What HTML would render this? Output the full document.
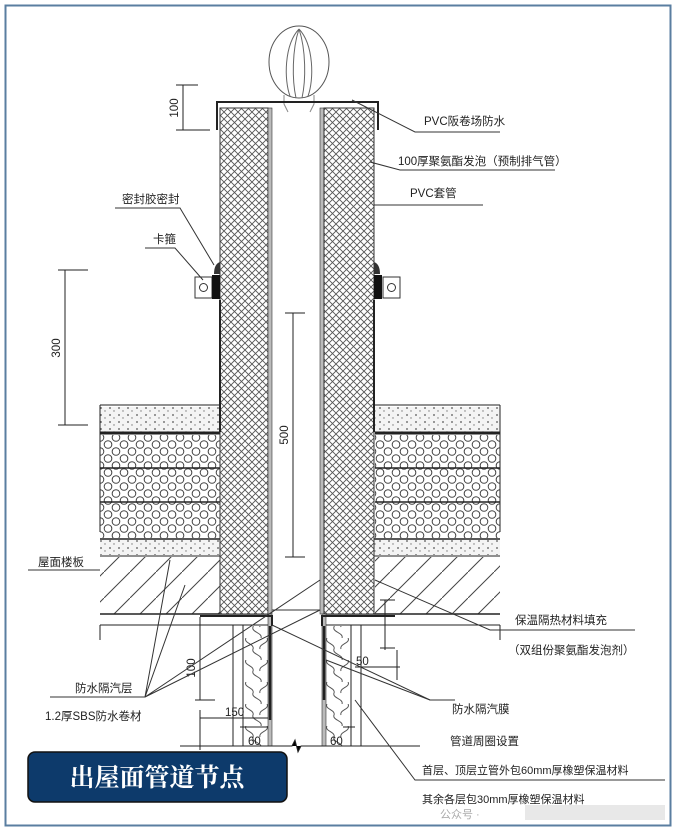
<!DOCTYPE html>
<html><head><meta charset="utf-8"><style>
html,body{margin:0;padding:0;background:#fff;width:677px;height:831px;overflow:hidden}
svg{display:block}
.t{font-family:"Liberation Sans","Noto Sans CJK SC",sans-serif;font-size:11.5px;fill:#222}
</style></head><body>
<svg width="677" height="831" viewBox="0 0 677 831" xmlns="http://www.w3.org/2000/svg">
<defs>
<pattern id="x" width="7" height="7" patternUnits="userSpaceOnUse">
<rect width="7" height="7" fill="#fff"/>
<path d="M0 0L7 7M7 0L0 7" stroke="#555" stroke-width="0.9"/>
</pattern>
<pattern id="hex" width="16" height="14" patternUnits="userSpaceOnUse">
<rect width="16" height="14" fill="#fff"/>
<circle cx="4" cy="3.5" r="3.8" fill="none" stroke="#444" stroke-width="1"/>
<circle cx="12" cy="10.5" r="3.8" fill="none" stroke="#444" stroke-width="1"/>
<circle cx="12" cy="-3.5" r="3.8" fill="none" stroke="#444" stroke-width="1"/>
<circle cx="-4" cy="10.5" r="3.8" fill="none" stroke="#444" stroke-width="1"/>
<circle cx="4" cy="17.5" r="3.8" fill="none" stroke="#444" stroke-width="1"/>
<circle cx="20" cy="3.5" r="3.8" fill="none" stroke="#444" stroke-width="1"/>
</pattern>
<pattern id="dot" width="9" height="7" patternUnits="userSpaceOnUse">
<rect width="9" height="7" fill="#f4f4f4"/>
<circle cx="2" cy="2" r="0.9" fill="#555"/><circle cx="6" cy="5" r="0.7" fill="#777"/>
</pattern>
<pattern id="hat" width="26" height="26" patternUnits="userSpaceOnUse">
<rect width="26" height="26" fill="#fff"/>
<path d="M0 26L26 0" stroke="#444" stroke-width="1"/>
</pattern>
<pattern id="wav" width="27" height="22" patternUnits="userSpaceOnUse">
<rect width="27" height="22" fill="#fff"/>
<path d="M3 0 C0 5 12 6 10 11 C8 16 20 17 18 22 M24 0 C27 5 15 6 17 11" fill="none" stroke="#555" stroke-width="1"/>
</pattern>
</defs>
<rect x="0" y="0" width="677" height="831" fill="#fff"/>
<rect x="5.5" y="5.5" width="665" height="820" fill="none" stroke="#5a7ea0" stroke-width="2"/>

<!-- vent cap -->
<ellipse cx="299" cy="62" rx="30" ry="36" fill="#fff" stroke="#555"/>
<path d="M299 29 C284 45 284 80 290 96 M299 29 C314 45 314 80 308 96 M299 29 C292 50 292 80 296 98 M299 29 C306 50 306 80 302 98" fill="none" stroke="#666"/>
<path d="M284 95 V104 L288 112 M314 95 V104 L310 112" stroke="#888" fill="none"/>

<!-- roof layers left/right -->
<g stroke="#222">
<rect x="100" y="407" width="122" height="26" fill="url(#dot)" stroke="none"/>
<rect x="375" y="407" width="125" height="26" fill="url(#dot)" stroke="none"/>
<line x1="100" y1="405" x2="222" y2="405"/><line x1="375" y1="405" x2="500" y2="405"/>
<path d="M100 433 H222 M375 433 H500" stroke-width="3"/>
<rect x="100" y="435" width="122" height="103" fill="url(#hex)" stroke="none"/>
<rect x="375" y="435" width="125" height="103" fill="url(#hex)" stroke="none"/>
<path d="M100 468H222M100 502H222M375 468H500M375 502H500" stroke-width="1.5"/>
<rect x="100" y="540" width="172" height="15" fill="url(#dot)" stroke="none"/>
<rect x="322" y="540" width="178" height="15" fill="url(#dot)" stroke="none"/>
<path d="M100 539H272M322 539H500" stroke-width="1.5"/>
<path d="M100 556H272M322 556H500"/>
<rect x="100" y="557" width="122" height="57" fill="url(#hat)" stroke="none"/>
<rect x="375" y="557" width="125" height="57" fill="url(#hat)" stroke="none"/>
<path d="M100 614H272M322 614H500" stroke-width="1.5"/>
<path d="M100 625H233M380 625H500"/>
<path d="M100 405V532M500 405V532M100 625V640M500 625V640"/>
</g>

<!-- pipe -->
<rect x="220" y="108" width="48" height="506" fill="url(#x)" stroke="#333"/>
<rect x="268" y="108" width="4" height="506" fill="#bbb" stroke="#333" stroke-width="0.6"/>
<rect x="320" y="108" width="4" height="506" fill="#bbb" stroke="#333" stroke-width="0.6"/>
<rect x="324" y="108" width="50" height="506" fill="url(#x)" stroke="#333"/>
<path d="M217 130V102H378V130" fill="none" stroke="#222" stroke-width="2"/>
<path d="M220 300V432M374 300V432" stroke="#222" stroke-width="2"/>

<!-- clamps -->
<path d="M214 274 q0 -10 6 -12 v12z" fill="#333"/>
<path d="M380 274 q0 -10 -6 -12 v12z" fill="#333"/>
<rect x="195" y="277" width="17" height="21" fill="#fff" stroke="#333"/>
<circle cx="203.5" cy="287.5" r="4" fill="none" stroke="#333"/>
<rect x="212" y="275" width="8" height="24" fill="#111"/>
<rect x="383" y="277" width="17" height="21" fill="#fff" stroke="#333"/>
<circle cx="391.5" cy="287.5" r="4" fill="none" stroke="#333"/>
<rect x="374" y="275" width="8" height="24" fill="#111"/>

<!-- lower walls -->
<g stroke="#222">
<rect x="243" y="626" width="25" height="120" fill="url(#wav)" stroke="none"/>
<rect x="326" y="626" width="25" height="120" fill="url(#wav)" stroke="none"/>
<rect x="268" y="614" width="4" height="132" fill="#bbb" stroke="#333" stroke-width="0.6"/>
<rect x="322" y="614" width="4" height="132" fill="#bbb" stroke="#333" stroke-width="0.6"/>
<path d="M233 625V746M243 625V746M351 625V746M361 625V746" fill="none"/>
<path d="M233 625H268M326 625H380" />
<path d="M200 616H272V626M322 626V616H395" stroke-width="2" fill="none"/>
<path d="M270 626V720M324 626V700" stroke-width="2.5"/>
<path d="M180 746H292l3 -6 3 12 3 -6H420"/>
</g>

<!-- dimensions -->
<g stroke="#222" fill="none">
<path d="M183 85V130M176 85H198M176 130H210"/>
<path d="M65 270V425M58 270H88M58 425H88"/>
<path d="M293 313V557M285 313H305M285 557H305"/>
<path d="M200 617V700M195 700H215"/>
<path d="M200 710V750M200 718H268"/>
<path d="M240 727H268M343 727H355"/>
<path d="M385 600V650M380 648H395M380 600H395"/>
<path d="M397 650V680M355 667H400"/>
</g>
<g class="t" font-size="11">
<text transform="translate(178,108) rotate(-90)" text-anchor="middle">100</text>
<text transform="translate(60,348) rotate(-90)" text-anchor="middle">300</text>
<text transform="translate(288,435) rotate(-90)" text-anchor="middle">500</text>
<text transform="translate(195,668) rotate(-90)" text-anchor="middle">100</text>
<text x="225" y="716">150</text>
<text x="356" y="665">50</text>
<text x="248" y="745">60</text>
<text x="330" y="745">60</text>
</g>

<!-- leaders -->
<g stroke="#333" fill="none">
<path d="M352 100L415 132H500"/>
<path d="M370 162L400 170H555"/>
<path d="M374 205H483"/>
<path d="M115 208H180L214 265"/>
<path d="M145 248H175L203 280"/>
<path d="M28 570H100"/>
<path d="M375 580L490 630H635"/>
<path d="M50 697H145L170 560M145 697L185 585"/>
<path d="M145 697L320 610H272M145 697L320 580"/>
<path d="M272 625L430 700H455"/>
<path d="M326 660L430 700"/>
<path d="M355 700L415 780H665"/>
</g>

<!-- labels -->
<g class="t">
<text x="424" y="125">PVC阪卷场防水</text>
<text x="398" y="165">100厚聚氨酯发泡（预制排气管）</text>
<text x="410" y="197">PVC套管</text>
<text x="122" y="203">密封胶密封</text>
<text x="153" y="243">卡箍</text>
<text x="38" y="566">屋面楼板</text>
<text x="515" y="624">保温隔热材料填充</text>
<text x="508" y="654">（双组份聚氨酯发泡剂）</text>
<text x="75" y="692">防水隔汽层</text>
<text x="45" y="720">1.2厚SBS防水卷材</text>
<text x="452" y="713">防水隔汽膜</text>
<text x="450" y="745">管道周圈设置</text>
<text x="422" y="774" font-size="11">首层、顶层立管外包60mm厚橡塑保温材料</text>
<text x="422" y="803" font-size="11">其余各层包30mm厚橡塑保温材料</text>
<text x="440" y="818" fill="#aaa" font-size="11">公众号 ·</text>
</g>
<rect x="525" y="805" width="140" height="15" fill="#e8e8e8"/>

<!-- title -->
<rect x="28" y="752" width="259" height="50" rx="7" fill="#0d3a6b" stroke="#111" stroke-width="1.5"/>
<text x="157" y="786" text-anchor="middle" fill="#fff" font-family="'Noto Serif CJK SC','Liberation Serif',serif" font-size="25" font-weight="bold">出屋面管道节点</text>
</svg>
</body></html>
